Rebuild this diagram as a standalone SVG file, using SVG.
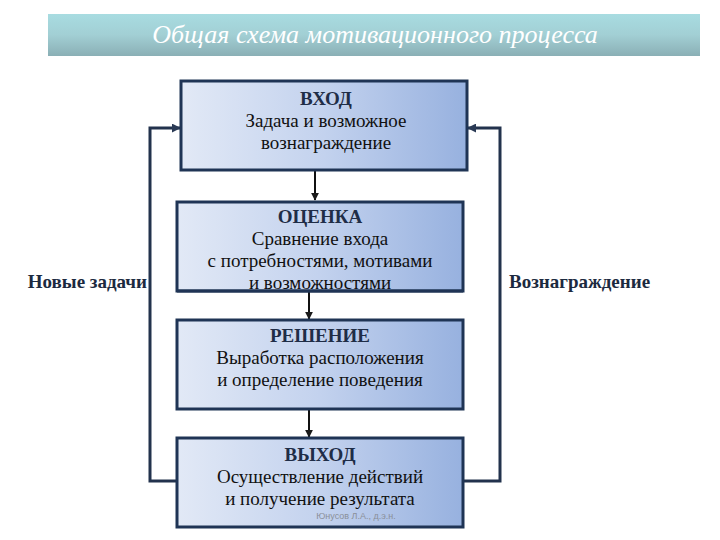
<svg xmlns="http://www.w3.org/2000/svg" width="720" height="540" viewBox="0 0 720 540">
<defs>
<linearGradient id="banner" x1="0" y1="0" x2="0" y2="1">
<stop offset="0" stop-color="#a8dce1"/>
<stop offset="0.5" stop-color="#a2cfd4"/>
<stop offset="1" stop-color="#8aafb5"/>
</linearGradient>
<linearGradient id="box" x1="0" y1="0" x2="1" y2="0">
<stop offset="0" stop-color="#e2e9f6"/>
<stop offset="0.5" stop-color="#c3d2ee"/>
<stop offset="1" stop-color="#97b1df"/>
</linearGradient>
<marker id="ah" viewBox="0 0 10 10" refX="9" refY="5" markerWidth="4" markerHeight="4" orient="auto">
<path d="M0,0 L10,5 L0,10 z" fill="#1a1a1a"/>
</marker>
<marker id="ahn" viewBox="0 0 10 10" refX="9" refY="5" markerWidth="3" markerHeight="3" orient="auto">
<path d="M0,0 L10,5 L0,10 z" fill="#2a3a55"/>
</marker>
</defs>
<rect width="720" height="540" fill="#ffffff"/>
<g id="title">
<rect x="48" y="14" width="652" height="42" fill="url(#banner)"/>
<text x="375" y="43" style="font-family:'Times New Roman'" font-style="italic" font-size="26" fill="#ffffff" text-anchor="middle">Общая схема мотивационного процесса</text>
</g>
<g id="connectors" fill="none">
<g stroke="#111" stroke-width="2">
<line x1="315" y1="171" x2="315" y2="200" marker-end="url(#ah)"/>
<line x1="309" y1="292" x2="309" y2="319" marker-end="url(#ah)"/>
<line x1="309" y1="410" x2="309" y2="437" marker-end="url(#ah)"/>
</g>
<g stroke="#22324d" stroke-width="3">
<polyline points="177,481 150,481 150,128 180,128" marker-end="url(#ahn)"/>
<polyline points="463,481 500,481 500,128 468,128" marker-end="url(#ahn)"/>
</g>
</g>
<g id="node-vhod">
<rect x="181" y="81" width="286" height="89" fill="url(#box)" stroke="#1f3455" stroke-width="3"/>
<text x="326" y="105" style="font-family:'Times New Roman'" font-size="19" font-weight="bold" fill="#1f2d47" text-anchor="middle">ВХОД</text>
<text x="326" y="127" style="font-family:'Times New Roman'" font-size="19" fill="#111111" text-anchor="middle">Задача и возможное</text>
<text x="326" y="149" style="font-family:'Times New Roman'" font-size="19" fill="#111111" text-anchor="middle">вознаграждение</text>
</g>
<g id="node-ocenka">
<rect x="177" y="202" width="286" height="89" fill="url(#box)" stroke="#1f3455" stroke-width="3"/>
<text x="320" y="223" style="font-family:'Times New Roman'" font-size="19" font-weight="bold" fill="#1f2d47" text-anchor="middle">ОЦЕНКА</text>
<text x="320" y="245" style="font-family:'Times New Roman'" font-size="19" fill="#111111" text-anchor="middle">Сравнение входа</text>
<text x="320" y="267" style="font-family:'Times New Roman'" font-size="19" fill="#111111" text-anchor="middle">с потребностями, мотивами</text>
<text x="320" y="289" style="font-family:'Times New Roman'" font-size="19" fill="#111111" text-anchor="middle">и возможностями</text>
<rect x="177" y="289.5" width="286" height="3" fill="#1f3455"/>
</g>
<g id="node-reshenie">
<rect x="177" y="320" width="286" height="89" fill="url(#box)" stroke="#1f3455" stroke-width="3"/>
<text x="320" y="342" style="font-family:'Times New Roman'" font-size="19" font-weight="bold" fill="#1f2d47" text-anchor="middle">РЕШЕНИЕ</text>
<text x="320" y="364" style="font-family:'Times New Roman'" font-size="19" fill="#111111" text-anchor="middle">Выработка расположения</text>
<text x="320" y="386" style="font-family:'Times New Roman'" font-size="19" fill="#111111" text-anchor="middle">и определение поведения</text>
</g>
<g id="node-vyhod">
<rect x="177" y="438" width="286" height="89" fill="url(#box)" stroke="#1f3455" stroke-width="3"/>
<text x="320" y="461" style="font-family:'Times New Roman'" font-size="19" font-weight="bold" fill="#1f2d47" text-anchor="middle">ВЫХОД</text>
<text x="320" y="483" style="font-family:'Times New Roman'" font-size="19" fill="#111111" text-anchor="middle">Осуществление действий</text>
<text x="320" y="505" style="font-family:'Times New Roman'" font-size="19" fill="#111111" text-anchor="middle">и получение результата</text>
<text x="356" y="519" font-family="Liberation Sans" font-size="9" fill="#8a8f99" text-anchor="middle">Юнусов Л.А., д.э.н.</text>
</g>
<g id="label-left">
<text x="147" y="288" style="font-family:'Times New Roman'" font-size="19" font-weight="bold" fill="#1c2a40" text-anchor="end">Новые задачи</text>
</g>
<g id="label-right">
<text x="509" y="288" style="font-family:'Times New Roman'" font-size="19" font-weight="bold" fill="#1c2a40">Вознаграждение</text>
</g>
</svg>
